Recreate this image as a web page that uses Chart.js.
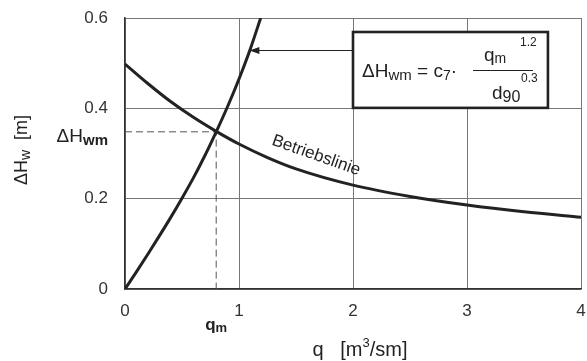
<!DOCTYPE html>
<html>
<head>
<meta charset="utf-8">
<script src="https://cdn.jsdelivr.net/npm/chart.js@4.4.0/dist/chart.umd.min.js"></script>
<style>
  html, body { margin: 0; padding: 0; background: #fff; }
  #wrap { width: 587px; height: 361px; position: relative; }
</style>
</head>
<body>
<div id="wrap"><canvas id="chart"></canvas></div>
<script>
// data
const betriebQ = [0, 0.2, 0.4, 0.6, 0.8, 1, 1.25, 1.5, 2, 2.5, 3, 3.5, 4]
const betriebH = [0.498, 0.455, 0.415, 0.38, 0.349, 0.321, 0.291, 0.266, 0.23, 0.205, 0.186, 0.171, 0.159]

const wehrQ = [0, 0.1, 0.2, 0.3, 0.4, 0.5, 0.6, 0.7, 0.8, 0.9, 1.0, 1.1, 1.19]
const wehrH = [0, 0.038, 0.077, 0.117, 0.158, 0.201, 0.246, 0.295, 0.348, 0.404, 0.465, 0.532, 0.6]

const qM = 0.8
const hM = 0.348

const xTicks = [0, 1, 2, 3, 4]
const yTicks = [0, 0.2, 0.4, 0.6]

const ink = '#222'
const font = '"Liberation Sans", Arial, sans-serif'

const toPoints = (xs, ys) => xs.map((x, i) => ({ x: x, y: ys[i] }))

// text with sub/superscripts, parts: [text, size, dy, weight]
function drawParts (ctx, parts, x, y, align) {
  let w = 0
  parts.forEach(p => {
    ctx.font = (p[3] || 'normal') + ' ' + p[1] + 'px ' + font
    w += ctx.measureText(p[0]).width
  })
  let cx = align === 'right' ? x - w : align === 'center' ? x - w / 2 : x
  parts.forEach(p => {
    ctx.font = (p[3] || 'normal') + ' ' + p[1] + 'px ' + font
    ctx.fillText(p[0], cx, y + (p[2] || 0))
    cx += ctx.measureText(p[0]).width
  })
}

const extras = {
  id: 'extras',
  afterDraw (chart) {
    const ctx = chart.ctx
    const xs = chart.scales.x
    const ys = chart.scales.y
    const px = v => xs.getPixelForValue(v)
    const py = v => ys.getPixelForValue(v)
    ctx.save()
    ctx.fillStyle = ink
    ctx.strokeStyle = ink
    ctx.textBaseline = 'alphabetic'

    // formula box
    const bx = px(2), by = py(0.569), bw = px(3.71) - px(2), bh = py(0.401) - py(0.569)
    ctx.fillStyle = '#fff'
    ctx.fillRect(bx, by, bw, bh)
    ctx.lineWidth = 2.6
    ctx.strokeRect(bx, by, bw, bh)
    ctx.fillStyle = ink
    drawParts(ctx, [['ΔH', 19], ['wm', 15, 3], [' = c', 19], ['7', 14, 3], ['·', 19]], bx + 9, by + 45)
    drawParts(ctx, [['q', 19], ['m', 14, 2]], bx + 131, by + 29)
    drawParts(ctx, [['1.2', 12]], bx + 167, by + 14)
    ctx.lineWidth = 1.2
    ctx.beginPath()
    ctx.moveTo(bx + 120, by + 38.5)
    ctx.lineTo(bx + 180, by + 38.5)
    ctx.stroke()
    drawParts(ctx, [['d', 19], ['90', 16, 3]], bx + 139, by + 67)
    drawParts(ctx, [['0.3', 12]], bx + 168, by + 50)

    // arrow from box to curve
    const ay = py(0.528)
    const ax = px(1.1)
    ctx.lineWidth = 1
    ctx.beginPath()
    ctx.moveTo(bx, ay)
    ctx.lineTo(ax, ay)
    ctx.stroke()
    ctx.beginPath()
    ctx.moveTo(ax - 1, ay)
    ctx.lineTo(ax + 9, ay - 3.5)
    ctx.lineTo(ax + 9, ay + 3.5)
    ctx.closePath()
    ctx.fill()

    // Betriebslinie label
    ctx.save()
    ctx.translate(px(1.28), py(0.32))
    ctx.rotate(0.34)
    ctx.font = '17px ' + font
    ctx.fillText('Betriebslinie', 0, 0)
    ctx.restore()

    // ΔHwm label
    drawParts(ctx, [['ΔH', 19], ['wm', 15, 3, 'bold']], 108, py(hM) + 10, 'right')

    // qm label
    drawParts(ctx, [['q', 17, 0, 'bold'], ['m', 13, 2, 'bold']], px(qM), 330, 'center')

    // x axis title
    drawParts(ctx, [['q   [m', 20], ['3', 13, -9], ['/sm]', 20]], 360, 356, 'center')

    // y axis title
    ctx.save()
    ctx.translate(27, 150)
    ctx.rotate(-Math.PI / 2)
    drawParts(ctx, [['ΔH', 18], ['w', 14, 3], ['  [m]', 18]], 0, 0, 'center')
    ctx.restore()

    ctx.restore()
  }
}

new Chart(document.querySelector('#chart'), {
  type: 'scatter',
  data: {
    datasets: [
      {
        label: 'Betriebslinie',
        data: toPoints(betriebQ, betriebH),
        showLine: true,
        borderColor: ink,
        borderWidth: 3,
        pointRadius: 0,
        cubicInterpolationMode: 'monotone'
      },
      {
        label: 'ΔHwm',
        data: toPoints(wehrQ, wehrH),
        showLine: true,
        borderColor: ink,
        borderWidth: 3,
        pointRadius: 0,
        cubicInterpolationMode: 'monotone'
      },
      {
        label: 'qm',
        data: [{ x: 0, y: hM }, { x: qM, y: hM }, { x: qM, y: 0 }],
        showLine: true,
        borderColor: '#555',
        borderWidth: 1,
        borderDash: [7, 4],
        pointRadius: 0
      }
    ]
  },
  options: {
    responsive: true,
    maintainAspectRatio: false,
    animation: false,
    layout: { padding: { top: 18, right: 6, left: 0, bottom: 0 } },
    plugins: {
      legend: { display: false },
      tooltip: { enabled: false }
    },
    scales: {
      x: {
        type: 'linear',
        min: 0,
        max: 4,
        afterBuildTicks: s => { s.ticks = xTicks.map(v => ({ value: v })) },
        afterFit: s => {
          s.height = 72
          s.paddingLeft = 0
          s.paddingRight = 0
        },
        grid: { color: '#777', lineWidth: 1, drawTicks: false },
        border: { color: '#333', width: 1.5 },
        ticks: {
          padding: 12,
          color: '#333',
          font: { family: font, size: 17 },
          callback: v => String(v)
        }
      },
      y: {
        type: 'linear',
        min: 0,
        max: 0.6,
        afterBuildTicks: s => { s.ticks = yTicks.map(v => ({ value: v })) },
        afterFit: s => {
          s.width = 125
          s.paddingTop = 0
          s.paddingBottom = 0
        },
        grid: { color: '#777', lineWidth: 1, drawTicks: false },
        border: { color: '#333', width: 1.5 },
        ticks: {
          padding: 17,
          color: '#333',
          font: { family: font, size: 17 },
          callback: v => String(v)
        }
      }
    }
  },
  plugins: [extras]
})
</script>
</body>
</html>
